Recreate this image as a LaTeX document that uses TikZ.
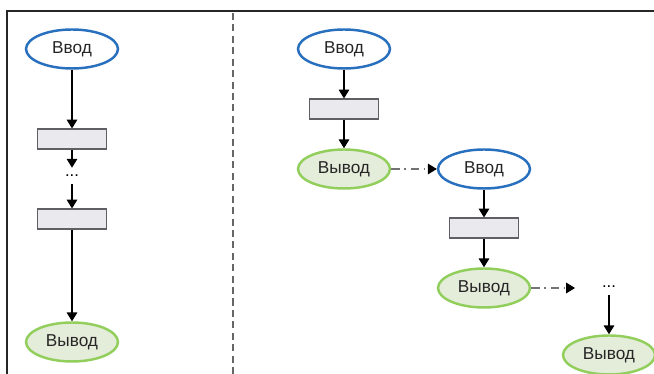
\documentclass[tikz,border=0pt]{standalone}
\usepackage{fontspec}
\setmainfont{Liberation Sans}
\usetikzlibrary{shapes.geometric,arrows.meta}

\definecolor{inblue}{RGB}{40,112,190}
\definecolor{outgreen}{RGB}{146,206,92}
\definecolor{outfill}{RGB}{228,236,218}
\definecolor{boxfill}{RGB}{234,234,238}
\definecolor{boxline}{RGB}{95,95,100}

\begin{document}
\begin{tikzpicture}[x=0.02cm, y=-0.02cm,
  inbox/.style={ellipse, draw=inblue, line width=1.4pt, fill=white, text=black!85,
    minimum width=1.84cm, minimum height=0.78cm, inner sep=0pt,
    font=\fontsize{9.8}{11}\selectfont},
  outbox/.style={inbox, draw=outgreen, fill=outfill},
  stepbox/.style={rectangle, draw=boxline, fill=boxfill, line width=0.6pt,
    minimum width=1.38cm, minimum height=0.4cm, inner sep=0pt},
  dotsbox/.style={inner sep=4pt, font=\fontsize{9.5}{11}\selectfont},
  flow/.style={-{Triangle[length=5pt,width=6pt]}, line width=0.6pt},
  jump/.style={-{Triangle[length=5pt,width=6pt,black]}, line width=0.6pt,
    draw=black!55, dash pattern=on 5pt off 2.5pt on 1pt off 2.5pt}]
\useasboundingbox (0,0) rectangle (654,374);

% Frame and separator
\draw[line width=1.1pt, black!85] (7,374) -- (7,11) -- (654,11);
\draw[line width=0.8pt, black!60, dash pattern=on 4pt off 2.5pt] (233,13) -- (233,374);

% Left: one long chain
\node[inbox] (inL) at (72,49) {Ввод};
\node[stepbox] (stepLa) at (72,139) {};
\node[dotsbox] (dotsL) at (72,176) {...};
\node[stepbox] (stepLb) at (72,219) {};
\node[outbox] (outL) at (72,342) {Вывод};

% Right: chained short steps
\node[inbox] (inRa) at (344,49) {Ввод};
\node[stepbox] (stepRa) at (344,109) {};
\node[outbox] (outRa) at (344,169) {Вывод};
\node[inbox] (inRb) at (484,169) {Ввод};
\node[stepbox] (stepRb) at (484,228) {};
\node[outbox] (outRb) at (484,288) {Вывод};
\coordinate (endRb) at (575,288);
\node[dotsbox] (dotsR) at (609,287) {...};
\node[outbox] (outRc) at (609,355) {Вывод};

% Arrows
\draw[flow] (inL) -- (stepLa);
\draw[flow] (stepLa) -- (dotsL);
\draw[flow] (dotsL) -- (stepLb);
\draw[flow] (stepLb) -- (outL);

\draw[flow] (inRa) -- (stepRa);
\draw[flow] (stepRa) -- (outRa);
\draw[jump] (outRa) -- (inRb);
\draw[flow] (inRb) -- (stepRb);
\draw[flow] (stepRb) -- (outRb);
\draw[jump] (outRb) -- (endRb);
\draw[flow] (dotsR) -- (outRc);

\end{tikzpicture}
\end{document}
